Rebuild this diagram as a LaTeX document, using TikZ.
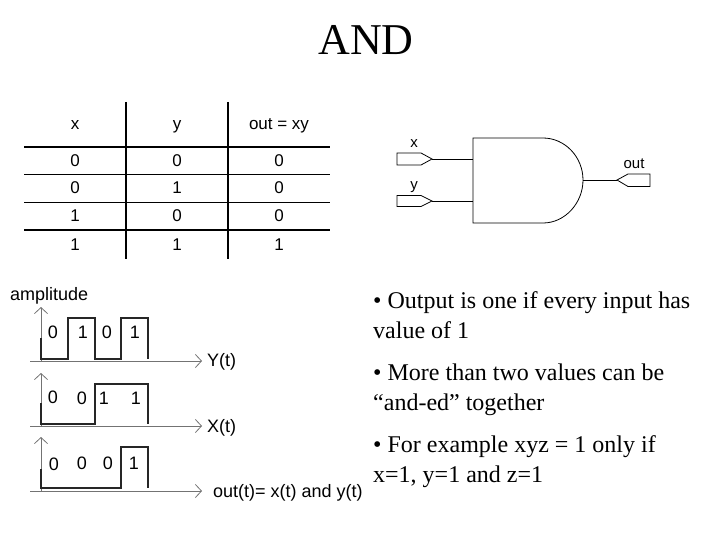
\documentclass[tikz,border=0pt]{standalone}
\usepackage{fontspec}
\setmainfont{Liberation Serif}
\setsansfont{Liberation Sans}
\usetikzlibrary{arrows.meta}
%% One macro for one trace with its axes.
\newcommand{\signalAxes}[3]{%%
  \coordinate (#1Origin) at (41,#3);
  \coordinate (#1Top) at (41,#2);
  \coordinate (#1Left) at (30,#3);
  \coordinate (#1Right) at (202,#3);
  \draw[axisStyle] (#1Origin) -- (#1Top);
  \draw[axisStyle] (#1Left) -- (#1Right);
}
\begin{document}
\begin{tikzpicture}[%%
  x=1pt,y=-1pt,%%
  ruleStyle/.style={line width=1.6pt,black},%%
  postStyle/.style={line width=2pt,black},%%
  gateStyle/.style={line width=0.8pt,black},%%
  axisStyle/.style={-{Straight Barb[length=6pt,width=13pt,line width=0.8pt]},line width=0.9pt,black!55},%%
  waveStyle/.style={line width=1.6pt,black!85,line join=miter},%%
  cellStyle/.style={font=\sffamily\fontsize{17}{17}\selectfont,inner sep=0pt,anchor=base},%%
  pinStyle/.style={font=\sffamily\fontsize{15}{15}\selectfont,inner sep=0pt,anchor=base},%%
  bitStyle/.style={font=\sffamily\fontsize{18}{18}\selectfont,inner sep=0pt,anchor=base},%%
  labelStyle/.style={font=\sffamily\fontsize{18}{18}\selectfont,inner sep=0pt,anchor=base west},%%
  textStyle/.style={font=\fontsize{24}{24}\selectfont,inner sep=0pt,anchor=base west}%%
]
\useasboundingbox (0,0) rectangle (720,540);
%%
%%
\node[font=\fontsize{44}{44}\selectfont,inner sep=0pt] (title) at (366,40) {AND};
%%
%%
%% The table.
\foreach \row in {147,174.5,202.5,230}{
  \draw[ruleStyle] (24,\row) -- (330,\row);
}
\foreach \col in {126,228}{
  \draw[postStyle] (\col,102) -- (\col,259);
}
\node[cellStyle] (headX) at (75,130) {x};
\node[cellStyle] (headY) at (177,130) {y};
\node[cellStyle] (headOut) at (279,130) {out = xy};
\foreach \y/\a/\b/\c in {167/0/0/0,194/0/1/0,222/1/0/0,250/1/1/1}{
  \node[cellStyle] (cellX\y) at (75,\y) {\a};
  \node[cellStyle] (cellY\y) at (177,\y) {\b};
  \node[cellStyle] (cellOut\y) at (279,\y) {\c};
}
%%
%%
%% The gate and its pins.
\coordinate (gateX) at (473,159);
\coordinate (gateY) at (473,201);
\coordinate (gateOut) at (583,180);
\coordinate (pinX) at (432,159);
\coordinate (pinY) at (432,201);
\coordinate (pinOut) at (617,180);
\draw[gateStyle] (473,138) -- (543,138) .. controls (565,138) and (583,157) .. (gateOut)
  .. controls (583,203) and (565,223) .. (543,223) -- (473,223) -- cycle;
\draw[gateStyle] (pinX) -- ++(-11,-6) -- ++(-24,0) -- ++(0,12) -- ++(24,0) -- cycle;
\draw[gateStyle] (pinY) -- ++(-11,-5.5) -- ++(-24,0) -- ++(0,11) -- ++(24,0) -- cycle;
\draw[gateStyle] (pinOut) -- ++(11,-6) -- ++(22,0) -- ++(0,12.5) -- ++(-22,0) -- cycle;
\draw[gateStyle] (pinX) -- (gateX);
\draw[gateStyle] (pinY) -- (gateY);
\draw[gateStyle] (gateOut) -- (pinOut);
\node[pinStyle] (labelX) at (414,148) {x};
\node[pinStyle] (labelY) at (414,190) {y};
\node[pinStyle] (labelOut) at (634,169) {out};
%%
%%
%% The three traces.
\node[labelStyle] (amplitude) at (10,300) {amplitude};
\signalAxes{topTrace}{307}{361}
\signalAxes{midTrace}{373}{426}
\signalAxes{lowTrace}{437}{491}
\draw[waveStyle] (41,338) -- (41,359) -- (68,359) -- (68,318) -- (95,318) -- (95,359)
  -- (121,359) -- (121,318) -- (148,318) -- (148,359);
\draw[waveStyle] (41,403) -- (41,424) -- (95,424) -- (95,384) -- (148,384) -- (148,424);
\draw[waveStyle] (41,469) -- (41,488) -- (121,488) -- (121,447) -- (148,447) -- (148,488);
\foreach \px/\py/\bit [count=\n] in {53/338/0,83/338/1,107/338/0,135/338/1,
  53/403/0,82/404/0,104/404/1,136/404/1,
  54/470/0,82/469/0,108/469/0,134/469/1}{
  \node[bitStyle] (bit\n) at (\px,\py) {\bit};
}
\node[labelStyle] (nameY) at (207,366) {Y(t)};
\node[labelStyle] (nameX) at (207,432) {X(t)};
\node[labelStyle] (nameOut) at (213,497) {out(t)= x(t) and y(t)};
%%
%%
%% The bullet text.
\node[textStyle] (lineA) at (373,308) {\textbullet{} Output is one if every input has};
\node[textStyle] (lineB) at (373,338) {value of 1};
\node[textStyle] (lineC) at (373,380) {\textbullet{} More than two values can be};
\node[textStyle] (lineD) at (373,410) {“and-ed” together};
\node[textStyle] (lineE) at (373,452) {\textbullet{} For example xyz = 1 only if};
\node[textStyle] (lineF) at (373,482) {x=1, y=1 and z=1};
\end{tikzpicture}
\end{document}
